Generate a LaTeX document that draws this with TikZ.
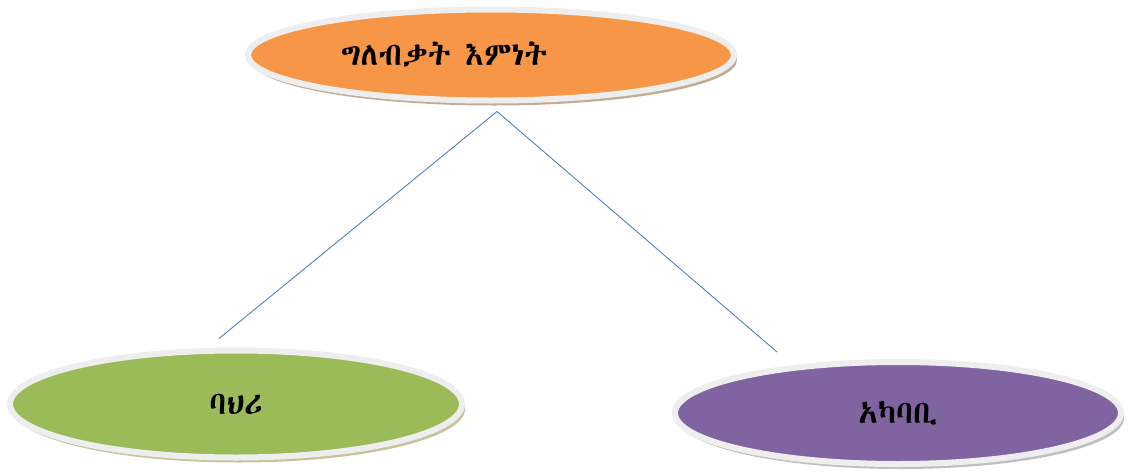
\documentclass[tikz,border=0pt]{standalone}
\usepackage{fontspec}
\usetikzlibrary{shapes.geometric,shadows}
\IfFontExistsTF{FreeSerif.otf}{\newfontfamily\ethfont[Script=Ethiopic,BoldFont=FreeSerifBold.otf]{FreeSerif.otf}}{%
\IfFontExistsTF{Abyssinica SIL}{\newfontfamily\ethfont{Abyssinica SIL}}{\newfontfamily\ethfont{DejaVu Sans}}}
\definecolor{orangefill}{HTML}{F79646}
\definecolor{greenfill}{HTML}{9BBB59}
\definecolor{purplefill}{HTML}{8064A2}
\definecolor{rimcol}{HTML}{EEEEEE}
\definecolor{linkcol}{HTML}{4F81BD}
\tikzset{
  oval/.style={ellipse, draw=rimcol, line width=6pt, inner sep=0pt,
    font=\ethfont\fontsize{32}{36}\selectfont\bfseries, text=black},
  link/.style={draw=linkcol, line width=0.9pt}
}
\begin{document}
\begin{tikzpicture}[x=1pt,y=-1pt]
\useasboundingbox (0,0) rectangle (1131,474);
\node[oval, fill=orangefill, minimum width=486pt, minimum height=91pt,
  drop shadow={shadow xshift=3pt, shadow yshift=-5pt, fill=brown!70!black, opacity=0.5}]
  (top) at (491,55) {\hspace*{-94pt}ግለብቃት እምነት};
\node[oval, fill=greenfill, minimum width=452pt, minimum height=107pt,
  drop shadow={shadow xshift=3pt, shadow yshift=-5pt, fill=olive!60!gray, opacity=0.5}]
  (left) at (236,404) {ባህሪ};
\node[oval, fill=purplefill, minimum width=446pt, minimum height=102pt,
  drop shadow={shadow xshift=3pt, shadow yshift=-5pt, fill=gray, opacity=0.5}]
  (right) at (898,413) {አካባቢ};
\coordinate (hub) at ([xshift=6pt,yshift=-8pt]top.south);
\coordinate (lend) at ([xshift=-17pt,yshift=9pt]left.north);
\coordinate (rend) at ([xshift=-121pt,yshift=7pt]right.north);
\draw[link] (hub) -- (lend);
\draw[link] (hub) -- (rend);
\end{tikzpicture}
\end{document}
